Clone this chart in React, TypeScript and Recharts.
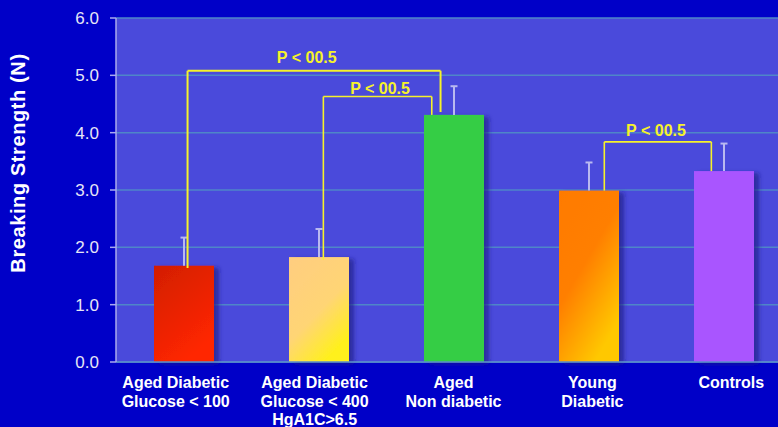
import React from 'react';
import {
  BarChart,
  Bar,
  XAxis,
  YAxis,
  CartesianGrid,
  ReferenceLine,
  ReferenceDot,
} from 'recharts';

// ---- data ----
const categories = [
  'Aged Diabetic\nGlucose < 100',
  'Aged Diabetic\nGlucose < 400\nHgA1C>6.5',
  'Aged\nNon diabetic',
  'Young\nDiabetic',
  'Controls',
];
const strengths = [1.68, 1.83, 4.31, 2.99, 3.33];
const errors = [0.49, 0.49, 0.5, 0.49, 0.48];
const barFills = ['url(#gRed)', 'url(#gPeach)', '#35cd45', 'url(#gOrange)', '#a955ff'];
const yTicks = [0, 1, 2, 3, 4, 5, 6];
const yTitle = 'Breaking Strength (N)';

// brackets on a continuous 0..5 category-position axis (category i centred at i + 0.5)
const bracketLeftX = [0.53, 1.536, 3.617];
const bracketRightX = [2.404, 2.339, 4.41];
const bracketTopY = [5.08, 4.63, 3.84];
const bracketLeftBottomY = [1.64, 1.78, 2.99];
const bracketRightBottomY = [4.36, 4.31, 3.33];
const pLabels = ['P < 00.5', 'P < 00.5', 'P < 00.5'];
const pLabelX = [1.413, 1.956, 4.0];
const pLabelY = [5.212, 4.671, 3.942];

const data = categories.map((c, i) => ({
  name: c,
  pos: i + 0.5,
  value: strengths[i],
  err: errors[i],
  fill: barFills[i],
}));

const FONT = "'Liberation Sans', Arial, sans-serif";
const YELLOW = '#f6f22a';

const BarShape = (props: any) => {
  const { x, y, width, height, payload } = props;
  if (!height) return null;
  const perUnit = height / payload.value;
  const ey = y - payload.err * perUnit;
  const cx = x + width / 2;
  return (
    <g>
      <rect x={x} y={y} width={width} height={height} fill={payload.fill} filter="url(#barShadow)" />
      <line x1={cx} x2={cx} y1={y} y2={ey} stroke="#b9b9f0" strokeWidth={2} />
      <line x1={cx - 3.5} x2={cx + 3.5} y1={ey} y2={ey} stroke="#b9b9f0" strokeWidth={2} />
    </g>
  );
};

const XTick = (props: any) => {
  const { x, y, payload, index } = props;
  const lines = String(payload.value).split('\n');
  const dx = (index - 2) * 3.9;
  return (
    <text
      x={x + dx}
      y={y}
      textAnchor="middle"
      fill="#ffffff"
      fontSize={16}
      fontWeight="bold"
      fontFamily={FONT}
    >
      {lines.map((l, i) => (
        <tspan key={i} x={x + dx} dy={i === 0 ? 26 : 18.5}>
          {l}
        </tspan>
      ))}
    </text>
  );
};

const YTitle = (props: any) => {
  const vb = props.viewBox || { x: 0, y: 18, width: 116, height: 344 };
  const cx = vb.x + 25;
  const cy = vb.y + vb.height / 2 - 27;
  return (
    <text
      x={cx}
      y={cy}
      transform={`rotate(-90 ${cx} ${cy})`}
      textAnchor="middle"
      fill="#ffffff"
      fontSize={20}
      fontWeight="bold"
      letterSpacing={0.6}
      fontFamily={FONT}
    >
      {yTitle}
    </text>
  );
};

const PText = (label: string) => (p: any) => (
  <text
    x={p.cx}
    y={p.cy}
    textAnchor="middle"
    fill={YELLOW}
    fontSize={16}
    fontWeight="bold"
    fontFamily={FONT}
  >
    {label}
  </text>
);

export default function App() {
  const segs: any[] = [];
  bracketLeftX.forEach((lx, i) => {
    const rx = bracketRightX[i];
    const ty = bracketTopY[i];
    segs.push([{ x: lx, y: bracketLeftBottomY[i] }, { x: lx, y: ty }]);
    segs.push([{ x: lx, y: ty }, { x: rx, y: ty }]);
    segs.push([{ x: rx, y: ty }, { x: rx, y: bracketRightBottomY[i] }]);
  });

  return (
    <div
      style={{
        position: 'absolute',
        left: 0,
        top: 0,
        width: 778,
        height: 427,
        overflow: 'hidden',
        background: '#0000c8',
      }}
    >
      <BarChart
        width={791}
        height={427}
        data={data}
        margin={{ top: 18, right: 0, bottom: 0, left: 0 }}
        barSize={60}
      >
        <defs>
          <linearGradient id="gRed" x1="0" y1="0" x2="0.5" y2="1">
            <stop offset="0" stopColor="#d21e00" />
            <stop offset="1" stopColor="#ff2600" />
          </linearGradient>
          <linearGradient id="gPeach" x1="0" y1="0" x2="0.6" y2="1">
            <stop offset="0" stopColor="#ffcd80" />
            <stop offset="0.6" stopColor="#ffd575" />
            <stop offset="1" stopColor="#fff01c" />
          </linearGradient>
          <linearGradient id="gOrange" x1="0" y1="0" x2="0.6" y2="1">
            <stop offset="0" stopColor="#ff7a00" />
            <stop offset="0.5" stopColor="#ff7f00" />
            <stop offset="1" stopColor="#ffc800" />
          </linearGradient>
          <filter id="barShadow" x="-20%" y="-20%" width="150%" height="140%">
            <feDropShadow dx="5" dy="2" stdDeviation="2" floodColor="#1a1a80" floodOpacity="0.65" />
          </filter>
        </defs>
        <CartesianGrid vertical={false} stroke="#4f86c8" strokeWidth={1.5} fill="#4a4adb" />
        <XAxis
          dataKey="name"
          height={65}
          tickLine={false}
          tickSize={0}
          tickMargin={0}
          axisLine={{ stroke: '#5a8ccc', strokeWidth: 1.5 }}
          tick={<XTick />}
          interval={0}
        />
        <XAxis
          xAxisId="n"
          dataKey="pos"
          type="number"
          scale="linear"
          domain={[0, 5]}
          allowDataOverflow
          hide
          padding={{ left: 0, right: 0 }}
        />
        <YAxis
          width={116}
          domain={[0, 6]}
          ticks={yTicks}
          tickFormatter={(v: number) => v.toFixed(1)}
          tick={{ fill: '#e6e6f6', fontSize: 17, fontFamily: FONT }}
          tickSize={6}
          tickMargin={11}
          tickLine={{ stroke: '#aaaaee', strokeWidth: 1.5 }}
          axisLine={{ stroke: '#aaaaee', strokeWidth: 1.5 }}
          label={<YTitle />}
        />
        <Bar dataKey="value" shape={<BarShape />} isAnimationActive={false} />
        {segs.map((s, i) => (
          <ReferenceLine
            key={'s' + i}
            xAxisId="n"
            segment={s}
            stroke={YELLOW}
            strokeWidth={i < 3 ? 2 : 1.6}
            ifOverflow="visible"
          />
        ))}
        {pLabels.map((l, i) => (
          <ReferenceDot
            key={'p' + i}
            xAxisId="n"
            x={pLabelX[i]}
            y={pLabelY[i]}
            r={0}
            ifOverflow="visible"
            shape={PText(l)}
          />
        ))}
      </BarChart>
    </div>
  );
}
